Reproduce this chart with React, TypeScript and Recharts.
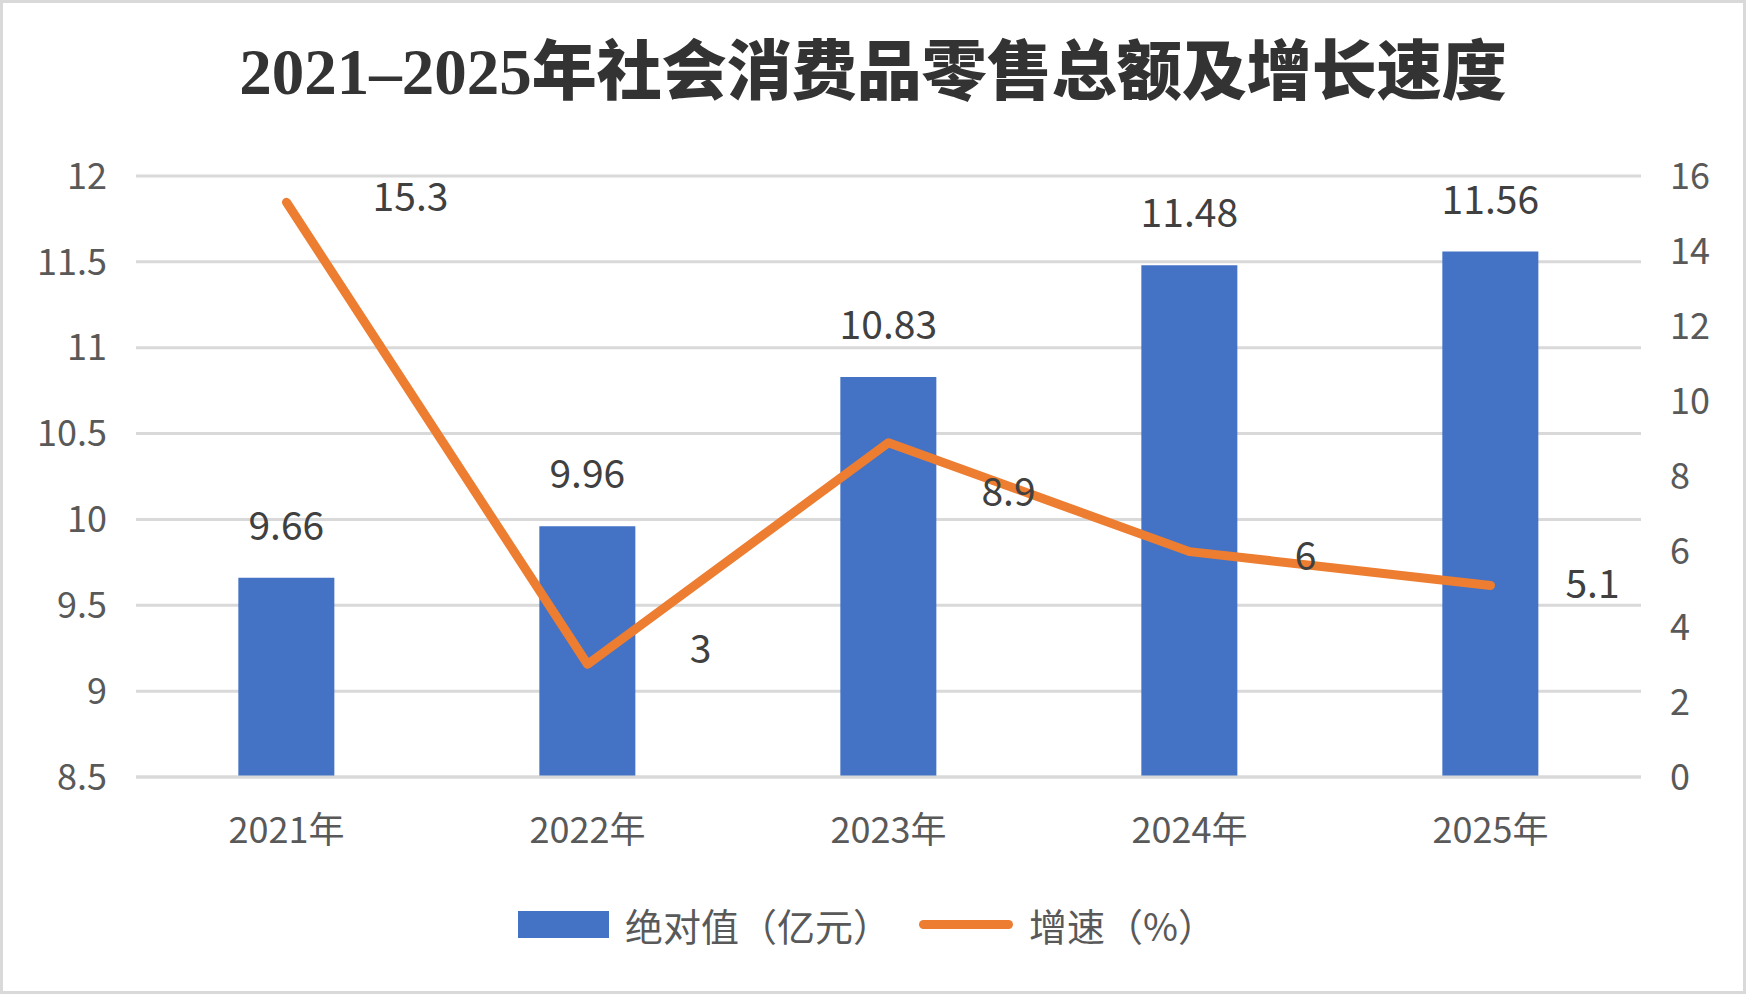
import {
  ComposedChart,
  Bar,
  Line,
  XAxis,
  YAxis,
  CartesianGrid,
  Legend,
  LabelList,
} from "recharts";

const years = ["2021年", "2022年", "2023年", "2024年", "2025年"];
const retailTotal = [9.66, 9.96, 10.83, 11.48, 11.56];
const growthRate = [15.3, 3, 8.9, 6, 5.1];
const leftTicks = [8.5, 9, 9.5, 10, 10.5, 11, 11.5, 12];
const rightTicks = [0, 2, 4, 6, 8, 10, 12, 14, 16];

const data = years.map((year, i) => ({
  year,
  total: retailTotal[i],
  rate: growthRate[i],
}));

const BLUE = "#4472C4";
const ORANGE = "#ED7D31";
const FONT = "'Noto Sans CJK SC', 'Noto Sans', sans-serif";

// small nudges for the growth labels, relative to each point
const rateLabelDx = [124, 113, 120, 116, 102];
const rateLabelDy = [-8, -18, 46, 1, -4];

const renderBarLabel = (props: any) => {
  const { x, y, width, value } = props;
  return (
    <text
      x={x + width / 2}
      y={y - 55}
      textAnchor="middle"
      dominantBaseline="central"
      fill="#404040"
      fontSize={39}
      fontFamily={FONT}
    >
      {value}
    </text>
  );
};

const renderRateLabel = (props: any) => {
  const { x, y, value, index } = props;
  return (
    <text
      x={x + rateLabelDx[index]}
      y={y + rateLabelDy[index]}
      textAnchor="middle"
      dominantBaseline="central"
      fill="#404040"
      fontSize={39}
      fontFamily={FONT}
    >
      {value}
    </text>
  );
};

const renderLegend = () => (
  <div
    style={{
      display: "flex",
      justifyContent: "center",
      alignItems: "center",
      paddingRight: 12,
      fontFamily: FONT,
      fontSize: 38,
      color: "#595959",
    }}
  >
    <span style={{ width: 91, height: 27, background: BLUE, display: "inline-block" }} />
    <span style={{ marginLeft: 16 }}>绝对值（亿元）</span>
    <span
      style={{
        width: 94,
        height: 9,
        background: ORANGE,
        borderRadius: 5,
        display: "inline-block",
        marginLeft: 28,
      }}
    />
    <span style={{ marginLeft: 16 }}>增速（%）</span>
  </div>
);

export default function App() {
  return (
    <div
      style={{
        position: "absolute",
        left: 0,
        top: 0,
        width: 1746,
        height: 994,
        background: "#fff",
        border: "3px solid #d9d9d9",
        boxSizing: "border-box",
      }}
    >
      <div
        style={{
          position: "absolute",
          left: -3,
          top: 24,
          width: 1746,
          textAlign: "center",
          fontFamily: "'Liberation Serif', 'Noto Sans CJK SC', serif",
          fontWeight: 900,
          fontSize: 65,
          color: "#333333",
          lineHeight: "90px",
        }}
      >
        2021–2025年社会消费品零售总额及增长速度
      </div>
      <div style={{ position: "absolute", left: -3, top: -3 }}>
        <ComposedChart
          width={1746}
          height={994}
          data={data}
          margin={{ top: 176, right: 0, bottom: 0, left: 0 }}
          barCategoryGap="34%"
        >
          <CartesianGrid
            yAxisId="left"
            vertical={false}
            stroke="#d9d9d9"
            strokeWidth={3}
          />
          <XAxis
            dataKey="year"
            axisLine={{ stroke: "#d9d9d9", strokeWidth: 3 }}
            tickLine={false}
            tickSize={0}
            tickMargin={40}
            height={167}
            tick={{ fill: "#595959", fontSize: 36, fontFamily: FONT }}
          />
          <YAxis
            yAxisId="left"
            orientation="left"
            domain={[8.5, 12]}
            ticks={leftTicks}
            width={136}
            axisLine={false}
            tickLine={false}
            tickSize={0}
            tickMargin={29}
            tick={{ fill: "#595959", fontSize: 36, fontFamily: FONT }}
          />
          <YAxis
            yAxisId="right"
            orientation="right"
            domain={[0, 16]}
            ticks={rightTicks}
            width={105}
            axisLine={false}
            tickLine={false}
            tickSize={0}
            tickMargin={29}
            textAnchor="start"
            tick={{ fill: "#595959", fontSize: 36, fontFamily: FONT }}
          />
          <Legend
            content={renderLegend}
            wrapperStyle={{ position: "absolute", top: 897, left: 0, width: 1746, height: 50 }}
          />
          <Bar
            yAxisId="left"
            dataKey="total"
            name="绝对值（亿元）"
            fill={BLUE}
            isAnimationActive={false}
          >
            <LabelList dataKey="total" content={renderBarLabel} />
          </Bar>
          <Line
            yAxisId="right"
            dataKey="rate"
            name="增速（%）"
            stroke={ORANGE}
            strokeWidth={9}
            strokeLinecap="round"
            strokeLinejoin="round"
            dot={false}
            activeDot={false}
            isAnimationActive={false}
          >
            <LabelList dataKey="rate" content={renderRateLabel} />
          </Line>
        </ComposedChart>
      </div>
    </div>
  );
}
